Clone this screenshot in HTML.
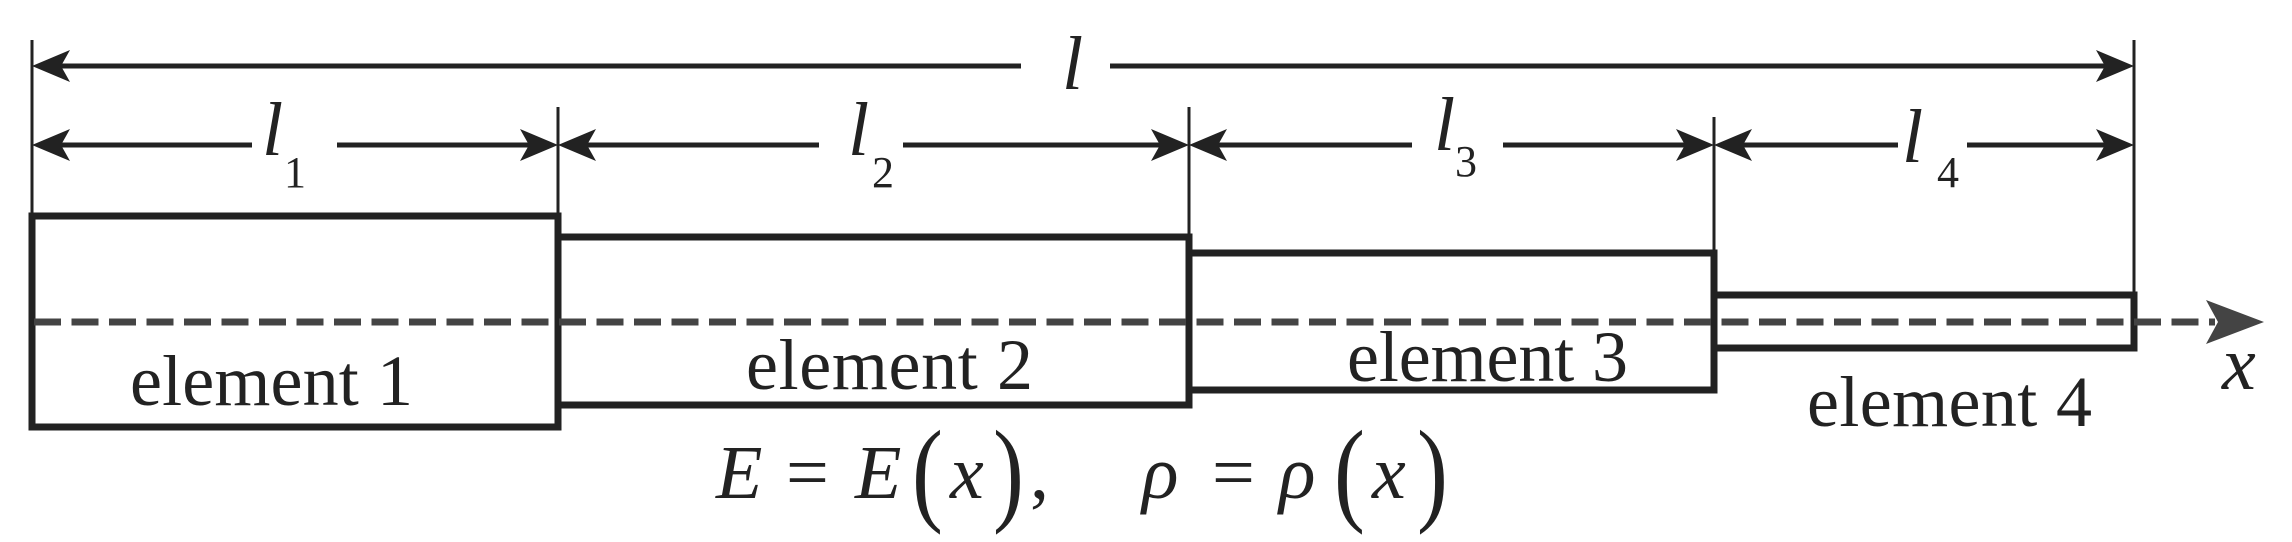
<!DOCTYPE html>
<html><head><meta charset="utf-8"><style>html,body{margin:0;padding:0;background:#fff}svg{display:block}</style></head>
<body>
<svg width="2292" height="542" viewBox="0 0 2292 542" xmlns="http://www.w3.org/2000/svg">
<defs>
<path id="ar" d="M0,0 L-38,-16 L-29,0 L-38,16 Z" fill="#222"/>
<path id="al" d="M0,0 L38,-16 L29,0 L38,16 Z" fill="#222"/>
</defs>
<g stroke="#222" fill="none">
<line x1="32" y1="40" x2="32" y2="216" stroke-width="3"/>
<line x1="558" y1="107" x2="558" y2="216" stroke-width="3"/>
<line x1="1189" y1="107" x2="1189" y2="237" stroke-width="3"/>
<line x1="1714" y1="117" x2="1714" y2="253" stroke-width="3"/>
<line x1="2134" y1="40" x2="2134" y2="295" stroke-width="3"/>
<line x1="40" y1="66" x2="1021" y2="66" stroke-width="5"/>
<line x1="1110" y1="66" x2="2125" y2="66" stroke-width="5"/>
<line x1="40" y1="145" x2="252" y2="145" stroke-width="5"/>
<line x1="337" y1="145" x2="550" y2="145" stroke-width="5"/>
<line x1="566" y1="145" x2="819" y2="145" stroke-width="5"/>
<line x1="903" y1="145" x2="1180" y2="145" stroke-width="5"/>
<line x1="1197" y1="145" x2="1412" y2="145" stroke-width="5"/>
<line x1="1503" y1="145" x2="1706" y2="145" stroke-width="5"/>
<line x1="1722" y1="145" x2="1898" y2="145" stroke-width="5"/>
<line x1="1967" y1="145" x2="2125" y2="145" stroke-width="5"/>
<rect x="32" y="216" width="526" height="211" stroke-width="7"/>
<rect x="558" y="237" width="631" height="168" stroke-width="7"/>
<rect x="1189" y="253" width="525" height="137" stroke-width="7"/>
<rect x="1714" y="295" width="420" height="53" stroke-width="7"/>
<line x1="34" y1="322" x2="2215" y2="322" stroke="#444" stroke-width="7" stroke-dasharray="27,10.5"/>
</g>
<path d="M2264,322 L2206,300 L2218,322 L2206,344 Z" fill="#444"/>
<use href="#al" x="32" y="66"/><use href="#ar" x="2134" y="66"/>
<use href="#al" x="32" y="145"/><use href="#ar" x="558" y="145"/>
<use href="#al" x="558" y="145"/><use href="#ar" x="1189" y="145"/>
<use href="#al" x="1189" y="145"/><use href="#ar" x="1714" y="145"/>
<use href="#al" x="1714" y="145"/><use href="#ar" x="2134" y="145"/>
<g style="font-family:'Liberation Serif',serif" fill="#222">
<g font-style="italic" font-size="76">
<text x="1062" y="89">l</text>
<text x="262" y="155">l</text>
<text x="848" y="155">l</text>
<text x="1434" y="150">l</text>
<text x="1902" y="162">l</text>
<text x="2222" y="389">x</text>
</g>
<g font-size="44">
<text x="284" y="187">1</text>
<text x="872" y="187">2</text>
<text x="1455" y="176">3</text>
<text x="1937" y="187">4</text>
</g>
<g font-size="72">
<text x="130" y="405" textLength="283">element 1</text>
<text x="746" y="389" textLength="287">element 2</text>
<text x="1347" y="381" textLength="281">element 3</text>
<text x="1807" y="426" textLength="285">element 4</text>
</g>
<g font-size="76">
<text x="716" y="498" font-style="italic">E</text>
<text x="786" y="498">=</text>
<text x="855" y="498" font-style="italic">E</text>
<text x="912" y="510" font-size="116" transform="translate(912,0) scale(0.8,1) translate(-912,0)">(</text>
<text x="950" y="498" font-style="italic">x</text>
<text x="993" y="510" font-size="116" transform="translate(993,0) scale(0.8,1) translate(-993,0)">)</text>
<text x="1030" y="498">,</text>
<text x="1142" y="498" font-style="italic">ρ</text>
<text x="1212" y="498">=</text>
<text x="1279" y="498" font-style="italic">ρ</text>
<text x="1334" y="510" font-size="116" transform="translate(1334,0) scale(0.8,1) translate(-1334,0)">(</text>
<text x="1372" y="498" font-style="italic">x</text>
<text x="1417" y="510" font-size="116" transform="translate(1417,0) scale(0.8,1) translate(-1417,0)">)</text>
</g>
</g>
</svg>
</body></html>
